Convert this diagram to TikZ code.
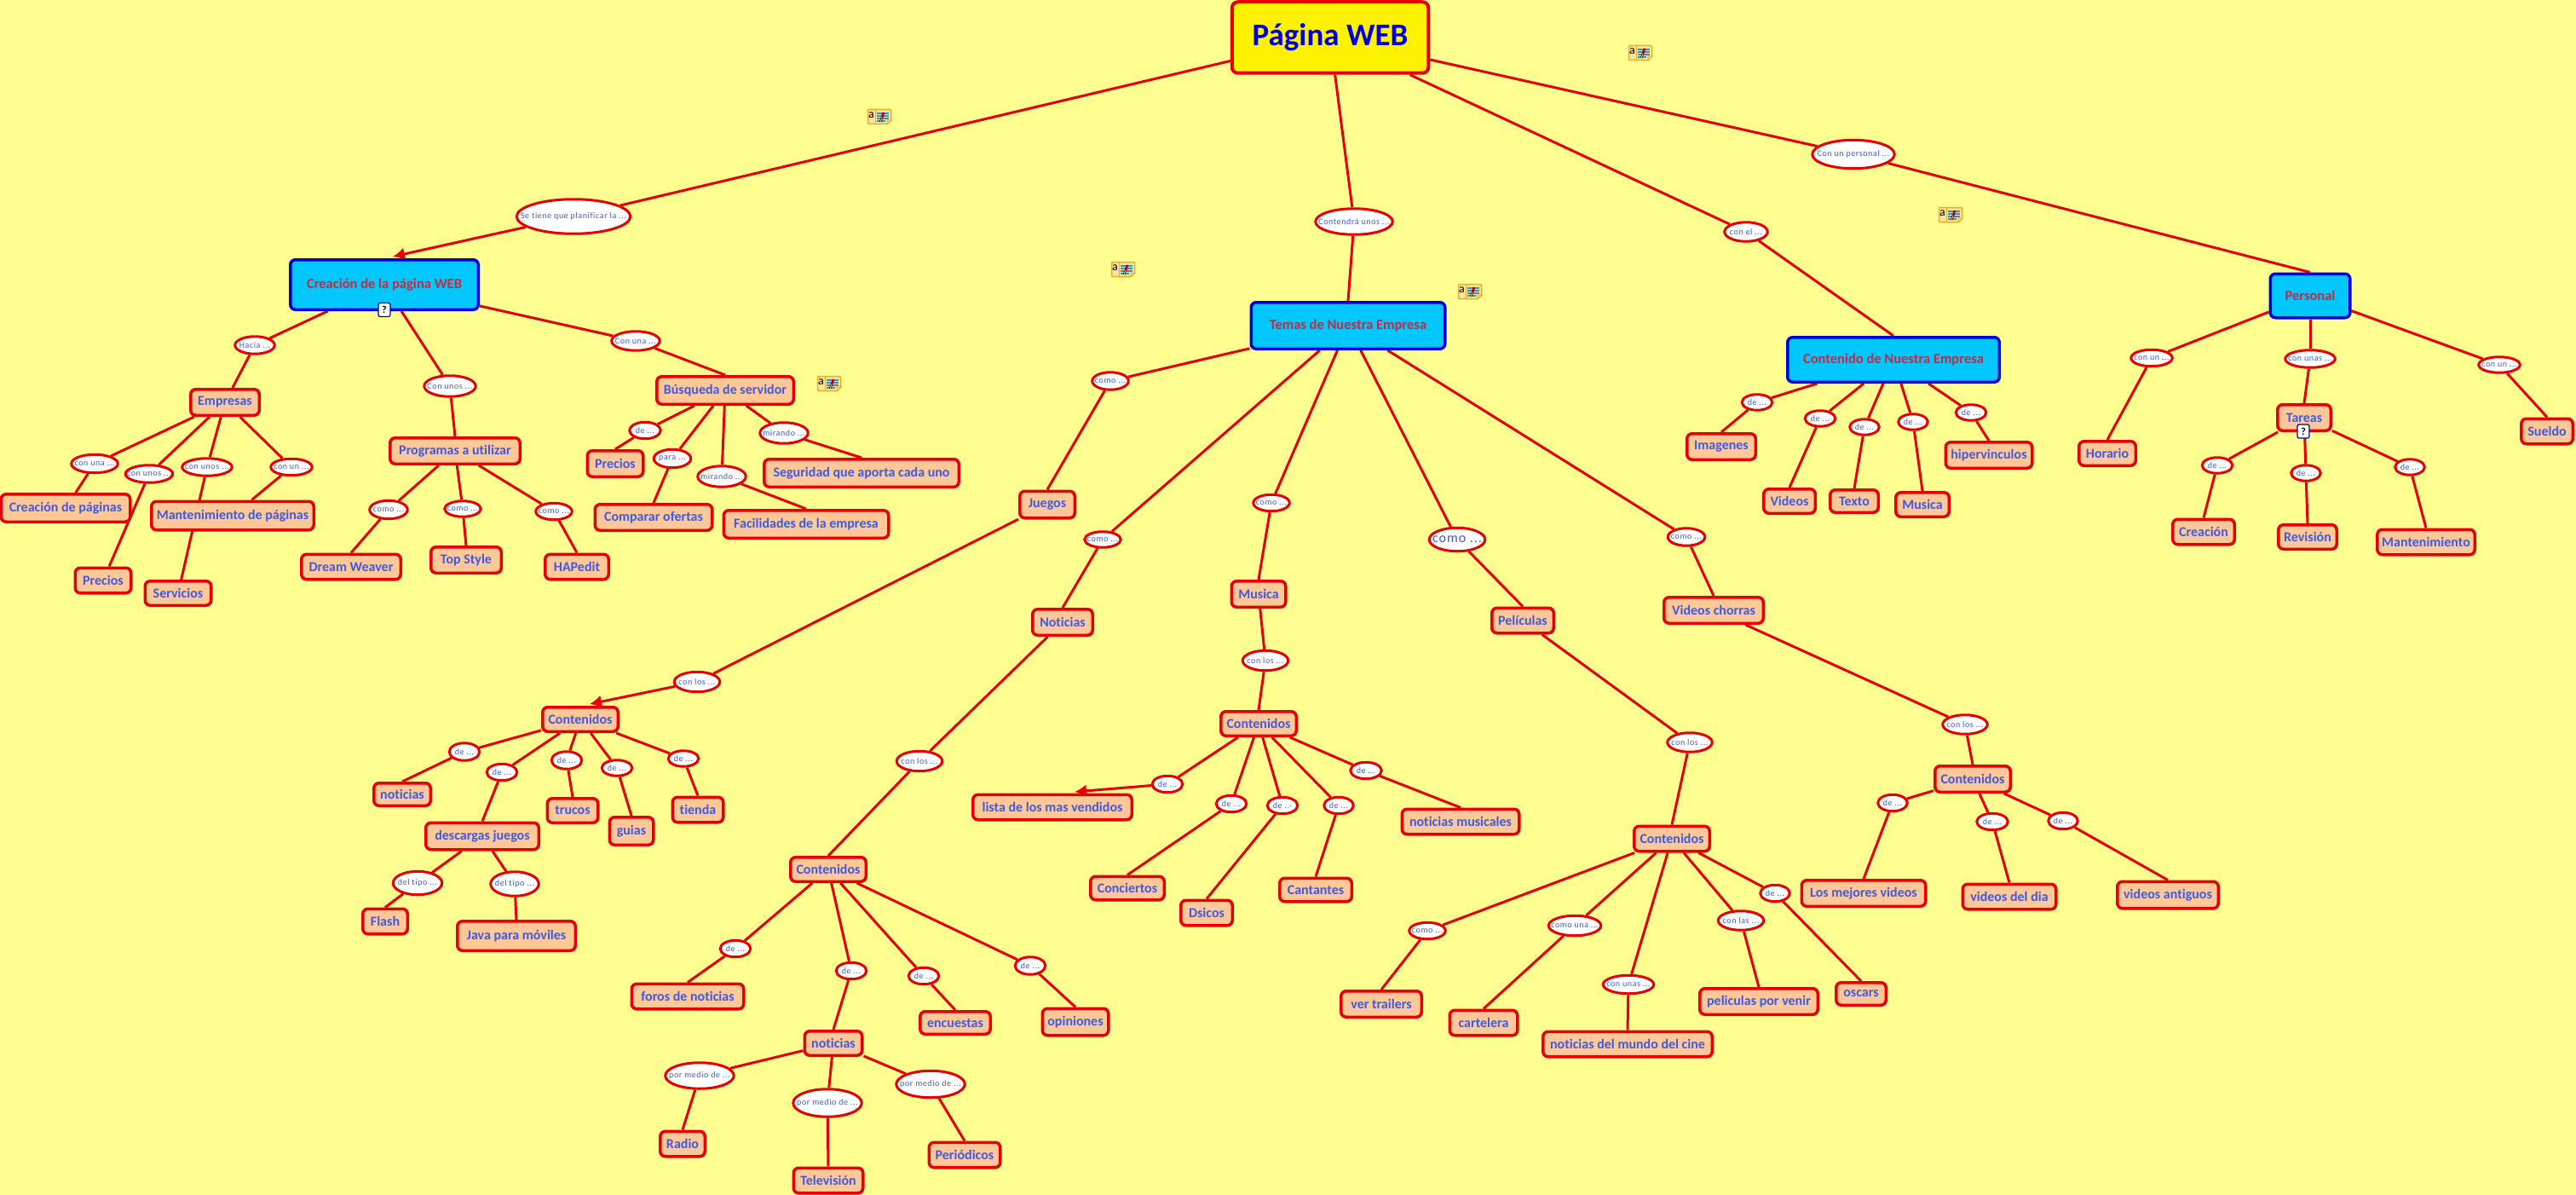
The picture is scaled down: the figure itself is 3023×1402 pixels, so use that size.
\documentclass[tikz,border=0pt]{standalone}
\usepackage{fontspec}
\setmainfont[Ligatures=NoCommon]{Carlito}
\newfontfamily\linkfont[LetterSpace=6,Ligatures=NoCommon]{Carlito}
\usetikzlibrary{shapes.geometric,arrows.meta}
\definecolor{bgyel}{HTML}{FFFF91}
\definecolor{rline}{HTML}{E80000}
\definecolor{peach}{HTML}{FFC896}
\definecolor{cyanb}{HTML}{00C8FF}
\definecolor{blueb}{HTML}{0000E0}
\definecolor{txtb}{HTML}{3C5AE6}
\definecolor{txtr}{HTML}{C82840}
\definecolor{noteb}{HTML}{E6AE28}
\definecolor{notef}{HTML}{FFE49C}
\definecolor{notel}{HTML}{3C8CC8}
\pgfdeclarelayer{under}
\pgfsetlayers{under,main}
\tikzset{
  conn/.style={draw=rline,line width=3pt},
  arrowconn/.style={conn,-{Latex[length=14pt,width=15pt]}},
  concept/.style={rectangle,rounded corners=6pt,draw=rline,line width=3.5pt,fill=peach,inner sep=0pt,text=txtb,font=\fontsize{16}{18}\selectfont\bfseries},
  maintopic/.style={rectangle,rounded corners=6pt,draw=blueb,line width=3.5pt,fill=cyanb,inner sep=0pt,text=txtr,font=\fontsize{16.5}{18}\selectfont\bfseries},
  roottopic/.style={rectangle,rounded corners=7pt,draw=rline,line width=4pt,fill=yellow,inner sep=0pt,text=blueb,font=\fontsize{37}{44}\selectfont\bfseries},
  linker/.style={ellipse,draw=rline,line width=3pt,fill=white,inner sep=0pt,text=txtb,font=\linkfont\fontsize{10}{12}\selectfont},
  helpicon/.style={rectangle,rounded corners=2pt,draw=blueb!70!black,line width=1.2pt,fill=white,inner sep=0pt,minimum width=14pt,minimum height=16pt,text=black,font=\fontsize{12}{12}\selectfont\bfseries},
  notebody/.style={rectangle,rounded corners=1pt,draw=noteb,line width=1.5pt,fill=notef,inner sep=0pt,minimum width=27pt,minimum height=17pt},
  notea/.style={inner sep=0pt,text=black,font=\fontsize{14}{14}\selectfont},
}
\newcommand\cbox[7]{\node[#1,minimum width={(#5-3.5)*1pt},minimum height={(#6-3.5)*1pt}] (#2) at (#3,#4) {\makebox[0pt][c]{#7}};}
\newcommand\cn[6]{\cbox{concept}{#1}{#2}{#3}{#4}{#5}{#6}}
\newcommand\mt[6]{\cbox{maintopic}{#1}{#2}{#3}{#4}{#5}{#6}}
\newcommand\lk[6]{\cbox{linker}{#1}{#2}{#3}{#4}{#5}{#6}}
\newcommand\noteicon[3]{%
  \node[notebody] (#1) at (#2,#3) {};
  \begin{scope}[shift={(#2,#3)}]
    \draw[noteb,line width=1pt] (-5,-8) -- (-5,8);
    \draw[notel,line width=1.3pt] (-3,-4) -- (11,-4) (-3,-1) -- (11,-1) (-3,2) -- (11,2) (-3,5) -- (7,5);
    \fill[bgyel] (15.5,9.8) -- (9,9.8) -- (15.5,3.5) -- cycle;
    \draw[noteb,fill=notef,line width=1pt,line join=round] (9,9) -- (9,4) -- (14.3,4) -- cycle;
    \draw[black,line width=2.4pt] (1,6) -- (3,1);
    \draw[yellow!80!orange,line width=1pt] (1,6) -- (3,1);
    \draw[red!70!black,line width=2.6pt] (3,1) -- (5,-5);
    \node[notea] (#1a) at (-9.5,-2) {a};
  \end{scope}}
\begin{document}
\begin{tikzpicture}[x=1pt,y=-1pt]
\useasboundingbox (0,0) rectangle (3023,1402);
\begin{pgfonlayer}{under}
\fill[bgyel] (0,0) rectangle (3023,1402);
\end{pgfonlayer}
% root
\cbox{roottopic}{root}{1561}{44}{234}{87}{Página WEB}
\lk{setiene}{673}{254}{137}{44}{Se tiene que planificar la ...}
\lk{contendra}{1589}{260}{94}{34}{Contendrá unos ...}
\lk{conel}{2049}{272}{54}{26}{con el ...}
\lk{conper}{2175}{181}{100}{37}{Con un personal ...}
\mt{crea}{451}{334}{224}{62}{Creación de la página WEB}
\mt{temas}{1582}{382}{231}{58}{Temas de Nuestra Empresa}
\mt{conte}{2222}{422}{252}{56}{Contenido de Nuestra Empresa}
\mt{pers}{2711}{347}{97}{55}{Personal}
% creacion branch
\lk{hacia}{299}{405}{50}{24}{Hacia ...}
\lk{cunos}{528}{453}{64}{28}{Con unos ...}
\lk{cuna}{746}{400}{60}{26}{Con una ...}
\cn{emp}{264}{472}{84}{34}{Empresas}
\cn{prog}{534}{529}{156}{34}{Programas a utilizar}
\cn{busq}{851}{458}{164}{36}{Búsqueda de servidor}
\lk{ea}{111}{544}{58}{25}{con una ...}
\lk{eb}{175}{556}{59}{24}{con unos ...}
\lk{ec}{243}{548}{62}{24}{con unos ...}
\lk{ed}{342}{548}{52}{23}{con un ...}
\cn{creapag}{77}{596}{155}{36}{Creación de páginas}
\cn{mant}{273}{605}{194}{37}{Mantenimiento de páginas}
\cn{prec}{121}{681}{69}{33}{Precios}
\cn{serv}{209}{696}{81}{32}{Servicios}
\lk{pa}{456}{598}{48}{25}{como ...}
\lk{pb}{543}{597}{46}{22}{como ...}
\lk{pc}{650}{600}{46}{23}{como ...}
\cn{dream}{412}{665}{120}{33}{Dream Weaver}
\cn{top}{547}{657}{86}{34}{Top Style}
\cn{hap}{677}{665}{78}{33}{HAPedit}
\lk{ba}{757}{505}{40}{23}{de ...}
\lk{bb}{789}{538}{47}{25}{para ...}
\lk{bc}{847}{559}{60}{28}{mirando ...}
\lk{bd}{920}{508}{60}{28}{mirando ...}
\cn{precb}{722}{544}{69}{34}{Precios}
\cn{comp}{767}{607}{141}{34}{Comparar ofertas}
\cn{facil}{946}{615}{197}{36}{Facilidades de la empresa}
\cn{segur}{1011}{555}{232}{36}{Seguridad que aporta cada uno}
% temas branch
\lk{tj}{1303}{447}{46}{24}{como ...}
\lk{tn}{1294}{633}{46}{22}{como ...}
\lk{tm}{1492}{590}{46}{23}{como ...}
\lk{tp}{1710}{633}{69}{31}{\fontsize{16}{18}\selectfont como ...}
\lk{tv}{1979}{630}{47}{24}{como ...}
\cn{juegos}{1229}{592}{68}{35}{Juegos}
\cn{notic}{1247}{730}{74}{34}{Noticias}
\cn{musica}{1477}{697}{67}{34}{Musica}
\cn{pelis}{1787}{728}{76}{33}{Películas}
\cn{vchor}{2011}{716}{120}{34}{Videos chorras}
% juegos
\lk{clj}{818}{800}{57}{27}{con los ...}
\cn{contj}{681}{844}{92}{32}{Contenidos}
\lk{ja}{545}{882}{39}{24}{de ...}
\lk{jb}{589}{906}{39}{23}{de ...}
\lk{jc}{665}{892}{39}{24}{de ...}
\lk{jd}{724}{901}{39}{22}{de ...}
\lk{je}{802}{890}{39}{22}{de ...}
\cn{jnot}{472}{932}{70}{30}{noticias}
\cn{jtru}{672}{951}{63}{32}{trucos}
\cn{jgui}{741}{975}{55}{36}{guias}
\cn{jtie}{819}{950}{63}{33}{tienda}
\cn{jdes}{566}{981}{136}{35}{descargas juegos}
\lk{ta}{490}{1036}{61}{31}{del tipo ...}
\lk{tb}{604}{1037}{60}{32}{del tipo ...}
\cn{flash}{452}{1081}{56}{33}{Flash}
\cn{java}{606}{1098}{142}{38}{Java para móviles}
% noticias
\lk{cln}{1079}{893}{57}{27}{con los ...}
\cn{contn}{972}{1020}{92}{32}{Contenidos}
\lk{na}{863}{1113}{39}{23}{de ...}
\lk{nb}{999}{1139}{39}{23}{de ...}
\lk{nc}{1084}{1145}{39}{23}{de ...}
\lk{nd}{1209}{1133}{39}{24}{de ...}
\cn{foros}{807}{1169}{135}{33}{foros de noticias}
\cn{encu}{1121}{1200}{86}{30}{encuestas}
\cn{opin}{1262}{1199}{81}{35}{opiniones}
\cn{notb}{978}{1224}{71}{32}{noticias}
\lk{ma}{821}{1262}{84}{34}{por medio de ...}
\lk{mb}{971}{1294}{84}{36}{por medio de ...}
\lk{mc}{1092}{1272}{84}{35}{por medio de ...}
\cn{radio}{801}{1342}{56}{33}{Radio}
\cn{tele}{972}{1385}{85}{33}{Televisión}
\cn{perio}{1132}{1355}{87}{33}{Periódicos}
% musica
\lk{clm}{1485}{775}{57}{27}{con los ...}
\cn{contm}{1477}{849}{92}{32}{Contenidos}
\lk{sa}{1370}{920}{39}{23}{de ...}
\lk{sb}{1445}{943}{39}{23}{de ...}
\lk{sc}{1505}{945}{39}{23}{de ..-}
\lk{sd}{1571}{945}{38}{23}{de ...}
\lk{se}{1603}{904}{40}{23}{de ...}
\cn{lista}{1235}{947}{190}{33}{lista de los mas vendidos}
\cn{conc}{1323}{1042}{90}{31}{Conciertos}
\cn{dsic}{1416}{1071}{64}{33}{Dsicos}
\cn{cant}{1544}{1044}{88}{31}{Cantantes}
\cn{nmus}{1714}{964}{141}{33}{noticias musicales}
% peliculas
\lk{clp}{1983}{871}{56}{26}{con los ...}
\cn{contp}{1962}{984}{92}{33}{Contenidos}
\lk{ka}{1675}{1092}{46}{23}{como ...}
\lk{kb}{1848}{1086}{65}{27}{como una ...}
\lk{kc}{1911}{1155}{63}{25}{con unas ...}
\lk{kd}{2043}{1080}{57}{26}{con las ...}
\lk{ke}{2083}{1048}{38}{23}{de ...}
\cn{trail}{1621}{1178}{98}{34}{ver trailers}
\cn{cart}{1741}{1200}{83}{33}{cartelera}
\cn{nmun}{1910}{1225}{202}{33}{noticias del mundo del cine}
\cn{pven}{2064}{1175}{142}{34}{peliculas por venir}
\cn{osc}{2184}{1166}{62}{30}{oscars}
% videos
\lk{clv}{2306}{850}{56}{26}{con los ...}
\cn{contv}{2315}{914}{92}{34}{Contenidos}
\lk{va}{2221}{942}{38}{23}{de ...}
\lk{vb}{2338}{964}{40}{23}{de ...}
\lk{vc}{2421}{963}{38}{23}{de ...}
\cn{vmej}{2187}{1048}{149}{34}{Los mejores videos}
\cn{vdia}{2358}{1052}{113}{33}{videos del dia}
\cn{vant}{2544}{1050}{122}{35}{videos antiguos}
% contenido
\lk{ca}{2062}{472}{39}{22}{de ...}
\lk{cb}{2136}{491}{39}{22}{de ...}
\lk{cc}{2188}{501}{38}{22}{de ...}
\lk{cd}{2245}{495}{38}{22}{de ...}
\lk{ce}{2313}{484}{39}{22}{de ...}
\cn{imag}{2020}{524}{84}{34}{Imagenes}
\cn{vid}{2100}{588}{64}{32}{Videos}
\cn{texto}{2176}{588}{60}{30}{Texto}
\cn{cmus}{2256}{592}{66}{32}{Musica}
\cn{hiper}{2334}{534}{105}{34}{hipervinculos}
% personal
\lk{ra}{2525}{420}{52}{23}{con un ...}
\lk{rb}{2711}{421}{62}{24}{con unas ...}
\lk{rc}{2933}{428}{52}{22}{con un ...}
\cn{hor}{2473}{532}{70}{32}{Horario}
\cn{tar}{2704}{490}{66}{34}{Tareas}
\cn{sue}{2989}{506}{64}{33}{Sueldo}
\lk{qa}{2602}{546}{39}{22}{de ...}
\lk{qb}{2706}{555}{38}{22}{de ...}
\lk{qc}{2828}{548}{38}{22}{de ...}
\cn{crn}{2586}{624}{76}{33}{Creación}
\cn{rev}{2708}{630}{72}{32}{Revisión}
\cn{mnt}{2847}{636}{118}{33}{Mantenimiento}
% icons
\node[helpicon] (helpa) at (451,363.5) {?};
\node[helpicon] (helpb) at (2703,506) {?};
\noteicon{noa}{1032}{137}
\noteicon{nob}{973}{450}
\noteicon{noc}{1318}{316}
\noteicon{nod}{1725}{342}
\noteicon{noe}{1925}{62}
\noteicon{nof}{2289}{252}
% arrow ends
\coordinate (tipa) at (461,301);
\coordinate (tipb) at (692,826);
\coordinate (tipc) at (1261,929);
\begin{pgfonlayer}{under}
% centre to centre: from a concept to its linking phrase
\foreach \a/\b in {root/setiene,root/contendra,root/conel,root/conper,
 crea/hacia,hacia/emp,crea/cunos,crea/cuna,
 emp/ea,ea/creapag,emp/eb,eb/prec,emp/ec,ec/serv,emp/ed,ed/mant,
 prog/pa,prog/pb,prog/pc,
 busq/ba,busq/bb,busq/bc,busq/bd,
 temas/tj,temas/tn,temas/tm,temas/tp,temas/tv,
 juegos/clj,contj/ja,contj/jb,contj/jc,contj/jd,contj/je,
 jdes/ta,jdes/tb,
 notic/cln,contn/na,contn/nb,contn/nc,contn/nd,
 notb/ma,notb/mb,notb/mc,
 musica/clm,contm/sa,contm/sb,contm/sc,contm/sd,contm/se,
 pelis/clp,contp/ka,contp/kb,contp/kc,contp/kd,contp/ke,
 vchor/clv,contv/va,contv/vb,contv/vc,
 conte/ca,conte/cb,conte/cc,conte/cd,conte/ce,
 pers/ra,pers/rb,pers/rc,
 tar/qa,tar/qb,tar/qc}
 {\draw[conn] (\a) -- (\b);}
% from a linking phrase to the top of its target concept
\foreach \a/\b in {contendra/temas,conel/conte,conper/pers,
 cunos/prog,cuna/busq,
 pa/dream,pb/top,pc/hap,
 ba/precb,bb/comp,bc/facil,bd/segur,
 tj/juegos,tn/notic,tm/musica,tp/pelis,tv/vchor,
 ja/jnot,jb/jdes,jc/jtru,jd/jgui,je/jtie,
 ta/flash,tb/java,
 cln/contn,na/foros,nb/notb,nc/encu,nd/opin,
 ma/radio,mb/tele,mc/perio,
 clm/contm,sb/conc,sc/dsic,sd/cant,se/nmus,
 clp/contp,ka/trail,kb/cart,kc/nmun,kd/pven,ke/osc,
 clv/contv,va/vmej,vb/vdia,vc/vant,
 ca/imag,cb/vid,cc/texto,cd/cmus,ce/hiper,
 ra/hor,rb/tar,rc/sue,
 qa/crn,qb/rev,qc/mnt}
 {\draw[conn] (\a) -- (\b.north);}
\draw[arrowconn] (setiene) -- (tipa);
\draw[arrowconn] (clj) -- (tipb);
\draw[arrowconn] (sa) -- (tipc);
\end{pgfonlayer}
\end{tikzpicture}
\end{document}
